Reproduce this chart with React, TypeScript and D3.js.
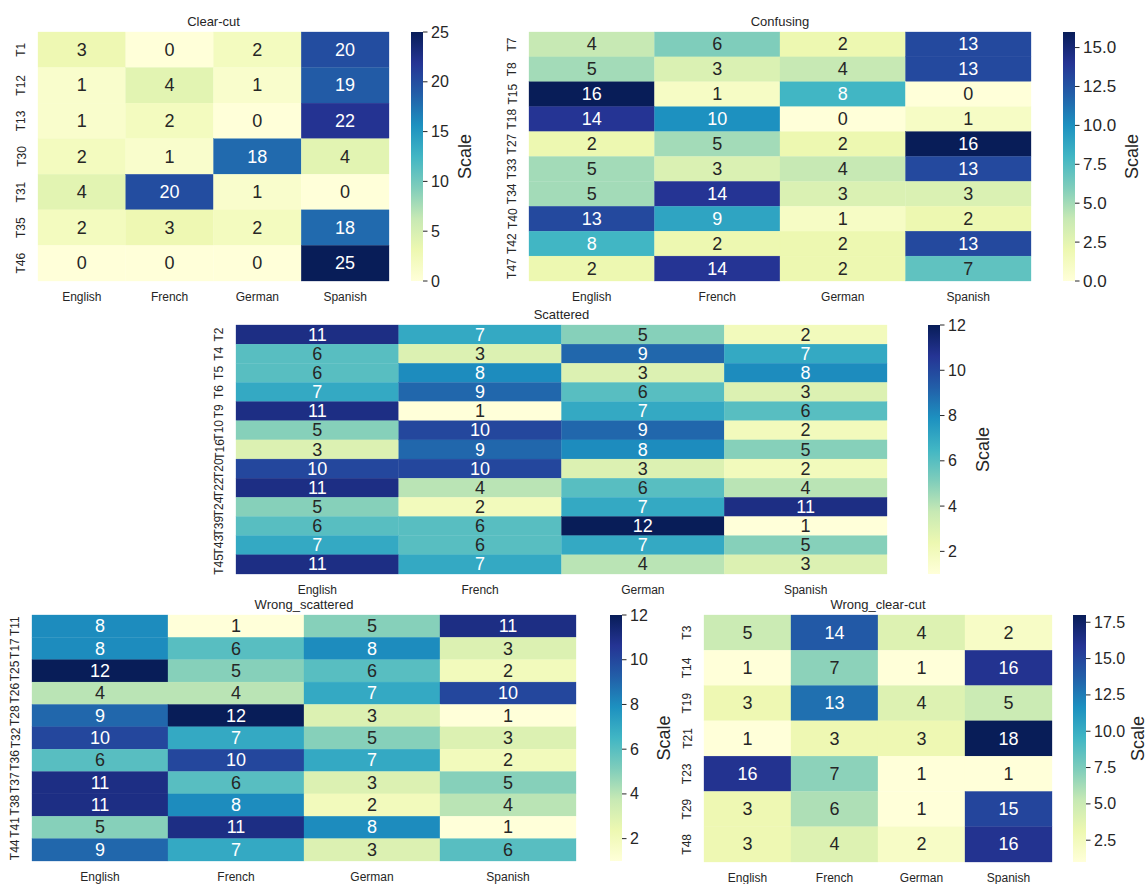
import React from "react";
import * as d3 from "d3";

const languages = ["English", "French", "German", "Spanish"];

const clearCutRows = ["T1", "T12", "T13", "T30", "T31", "T35", "T46"];
const clearCutValues = [
  [3, 0, 2, 20],
  [1, 4, 1, 19],
  [1, 2, 0, 22],
  [2, 1, 18, 4],
  [4, 20, 1, 0],
  [2, 3, 2, 18],
  [0, 0, 0, 25],
];
const clearCutTicks = [0, 5, 10, 15, 20, 25];

const confusingRows = ["T7", "T8", "T15", "T18", "T27", "T33", "T34", "T40", "T42", "T47"];
const confusingValues = [
  [4, 6, 2, 13],
  [5, 3, 4, 13],
  [16, 1, 8, 0],
  [14, 10, 0, 1],
  [2, 5, 2, 16],
  [5, 3, 4, 13],
  [5, 14, 3, 3],
  [13, 9, 1, 2],
  [8, 2, 2, 13],
  [2, 14, 2, 7],
];
const confusingTicks = [0, 2.5, 5, 7.5, 10, 12.5, 15];

const scatteredRows = ["T2", "T4", "T5", "T6", "T9", "T10", "T16", "T20", "T22", "T24", "T39", "T43", "T45"];
const scatteredValues = [
  [11, 7, 5, 2],
  [6, 3, 9, 7],
  [6, 8, 3, 8],
  [7, 9, 6, 3],
  [11, 1, 7, 6],
  [5, 10, 9, 2],
  [3, 9, 8, 5],
  [10, 10, 3, 2],
  [11, 4, 6, 4],
  [5, 2, 7, 11],
  [6, 6, 12, 1],
  [7, 6, 7, 5],
  [11, 7, 4, 3],
];
const scatteredTicks = [2, 4, 6, 8, 10, 12];

const wrongScatteredRows = ["T11", "T17", "T25", "T26", "T28", "T32", "T36", "T37", "T38", "T41", "T44"];
const wrongScatteredValues = [
  [8, 1, 5, 11],
  [8, 6, 8, 3],
  [12, 5, 6, 2],
  [4, 4, 7, 10],
  [9, 12, 3, 1],
  [10, 7, 5, 3],
  [6, 10, 7, 2],
  [11, 6, 3, 5],
  [11, 8, 2, 4],
  [5, 11, 8, 1],
  [9, 7, 3, 6],
];
const wrongScatteredTicks = [2, 4, 6, 8, 10, 12];

const wrongClearCutRows = ["T3", "T14", "T19", "T21", "T23", "T29", "T48"];
const wrongClearCutValues = [
  [5, 14, 4, 2],
  [1, 7, 1, 16],
  [3, 13, 4, 5],
  [1, 3, 3, 18],
  [16, 7, 1, 1],
  [3, 6, 1, 15],
  [3, 4, 2, 16],
];
const wrongClearCutTicks = [2.5, 5, 7.5, 10, 12.5, 15, 17.5];

const YLGNBU = ["#ffffd9", "#edf8b1", "#c7e9b4", "#7fcdbb", "#41b6c4", "#1d91c0", "#225ea8", "#253494", "#081d58"];

const panels = [
  {
    id: "cc", title: "Clear-cut", rows: clearCutRows, values: clearCutValues, ticks: clearCutTicks, fmt: "d",
    x0: 38, x1: 389, y0: 32, y1: 281, cb0: 411, cb1: 423, scaleX: 465, cbFont: 16,
  },
  {
    id: "cf", title: "Confusing", rows: confusingRows, values: confusingValues, ticks: confusingTicks, fmt: ".1f",
    x0: 529, x1: 1031, y0: 32, y1: 281, cb0: 1063, cb1: 1075, scaleX: 1132, cbFont: 17,
  },
  {
    id: "sc", title: "Scattered", rows: scatteredRows, values: scatteredValues, ticks: scatteredTicks, fmt: "d",
    x0: 236, x1: 887, y0: 325, y1: 574, cb0: 928, cb1: 940, scaleX: 983, cbFont: 16,
  },
  {
    id: "ws", title: "Wrong_scattered", rows: wrongScatteredRows, values: wrongScatteredValues, ticks: wrongScatteredTicks, fmt: "d",
    x0: 32, x1: 576, y0: 615, y1: 861, cb0: 610, cb1: 622, scaleX: 664, cbFont: 16,
  },
  {
    id: "wc", title: "Wrong_clear-cut", rows: wrongClearCutRows, values: wrongClearCutValues, ticks: wrongClearCutTicks, fmt: ".1f",
    x0: 704, x1: 1052, y0: 615, y1: 862, cb0: 1073, cb1: 1086, scaleX: 1138, cbFont: 16,
  },
];

const FONT = "'Liberation Sans', Arial, Helvetica, sans-serif";
const TXT = "#262626";

function lum(c: string) {
  const rgb = d3.rgb(c);
  const f = (v: number) => {
    const s = v / 255;
    return s <= 0.03928 ? s / 12.92 : Math.pow((s + 0.055) / 1.055, 2.4);
  };
  return 0.2126 * f(rgb.r) + 0.7152 * f(rgb.g) + 0.0722 * f(rgb.b);
}

function Heatmap({ p }: { p: any }) {
  const flat = p.values.flat();
  const vmin = d3.min(flat) as number;
  const vmax = d3.max(flat) as number;
  const interp = d3.piecewise(d3.interpolateRgb, YLGNBU);
  const color = (v: number) => interp((v - vmin) / (vmax - vmin));
  const x = d3.scaleBand().domain(languages).range([p.x0, p.x1]).padding(0);
  const y = d3.scaleBand().domain(p.rows).range([p.y0, p.y1]).padding(0);
  const cbY = d3.scaleLinear().domain([vmin, vmax]).range([p.y1, p.y0]);
  const fmt = d3.format(p.fmt);
  const cx = (p.x0 + p.x1) / 2;
  const cbMid = (p.y0 + p.y1) / 2;
  const gid = "grad-" + p.id;
  return (
    <g>
      <defs>
        <linearGradient id={gid} x1="0" y1="1" x2="0" y2="0">
          {YLGNBU.map((c, i) => (
            <stop key={i} offset={i / (YLGNBU.length - 1)} stopColor={c} />
          ))}
        </linearGradient>
      </defs>
      <text x={cx} y={p.y0 - 11} textAnchor="middle" dominantBaseline="central" fontSize={13} fill={TXT} fontFamily={FONT}>
        {p.title}
      </text>
      {p.values.map((row: number[], ri: number) =>
        row.map((v: number, ci: number) => {
          const c = color(v);
          return (
            <rect key={ri + "-" + ci} x={x(languages[ci])} y={y(p.rows[ri])} width={x.bandwidth()} height={y.bandwidth()} fill={c} stroke={c} strokeWidth={0.3} />
          );
        })
      )}
      {p.values.map((row: number[], ri: number) =>
        row.map((v: number, ci: number) => {
          const c = color(v);
          return (
            <text key={"t" + ri + "-" + ci} x={(x(languages[ci]) as number) + x.bandwidth() / 2} y={(y(p.rows[ri]) as number) + y.bandwidth() / 2}
              textAnchor="middle" dominantBaseline="central" fontSize={18} fontFamily={FONT} fill={lum(c) > 0.408 ? TXT : "#ffffff"}>
              {v}
            </text>
          );
        })
      )}
      {languages.map((l) => (
        <text key={l} x={(x(l) as number) + x.bandwidth() / 2} y={p.y1 + 16} textAnchor="middle" dominantBaseline="central" fontSize={12} fill={TXT} fontFamily={FONT}>
          {l}
        </text>
      ))}
      {p.rows.map((r: string) => {
        const yy = (y(r) as number) + y.bandwidth() / 2;
        const xx = p.x0 - 16.5;
        return (
          <text key={r} x={xx} y={yy} transform={`rotate(-90, ${xx}, ${yy})`} textAnchor="middle" dominantBaseline="central" fontSize={12} fill={TXT} fontFamily={FONT}>
            {r}
          </text>
        );
      })}
      <rect x={p.cb0} y={p.y0} width={p.cb1 - p.cb0} height={p.y1 - p.y0} fill={`url(#${gid})`} />
      {p.ticks.map((t: number) => (
        <g key={t}>
          <line x1={p.cb1} x2={p.cb1 + 4.5} y1={cbY(t)} y2={cbY(t)} stroke={TXT} strokeWidth={1} />
          <text x={p.cb1 + 8} y={cbY(t)} dominantBaseline="central" fontSize={p.cbFont} fill={TXT} fontFamily={FONT}>
            {fmt(t)}
          </text>
        </g>
      ))}
      <text x={p.scaleX} y={cbMid} transform={`rotate(-90, ${p.scaleX}, ${cbMid})`} textAnchor="middle" dominantBaseline="central" fontSize={18} fill={TXT} fontFamily={FONT}>
        Scale
      </text>
    </g>
  );
}

export default function App() {
  return (
    <svg width={1148} height={884} style={{ position: "absolute", left: 0, top: 0, background: "#ffffff" }}>
      <rect x={0} y={0} width={1148} height={884} fill="#ffffff" />
      {panels.map((p) => (
        <Heatmap key={p.id} p={p} />
      ))}
    </svg>
  );
}
